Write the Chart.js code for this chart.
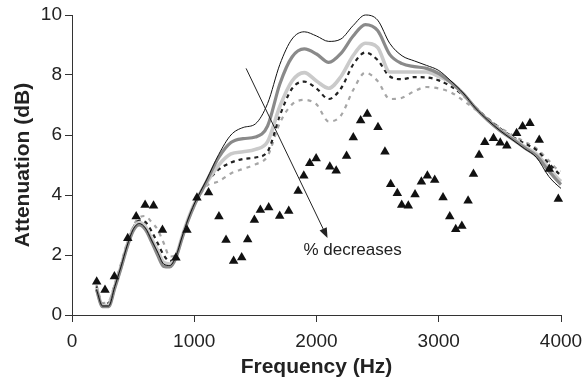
<!DOCTYPE html>
<html>
<head>
<meta charset="utf-8">
<script src="https://cdn.jsdelivr.net/npm/chart.js@4/dist/chart.umd.min.js"></script>
<style>
  body { margin: 0; background: #fff; }
  #wrap { width: 584px; height: 384px; }
</style>
</head>
<body>
<div id="wrap"><canvas id="attChart" width="584" height="384"></canvas></div>
<script>
// frequency grid (Hz) shared by the curves
const freq = [200, 250, 300, 350, 400, 450, 500, 550, 600, 650, 700, 750, 800, 850, 900, 950, 1000,
    1100, 1200, 1300, 1400, 1500, 1600, 1700, 1800, 1900, 2000, 2100, 2200, 2300, 2400, 2500,
    2600, 2700, 2800, 2900, 3000, 3100, 3200, 3300, 3400, 3500, 3600, 3700, 3800, 3900, 4000, 4050];

const curveBlack = [0.85, 0.3, 0.3, 0.95, 1.6, 2.3, 2.85, 3.05, 2.9, 2.5, 2.1, 1.7, 1.65, 1.95, 2.6, 3.2, 3.7,
    4.5, 5.35, 6.0, 6.25, 6.37, 7.05, 8.35, 9.2, 9.44, 9.3, 9.12, 9.2, 9.65, 10.0, 9.83,
    9.05, 8.64, 8.47, 8.32, 8.15, 7.8, 7.4, 6.9, 6.5, 6.15, 5.85, 5.55, 5.25, 4.62, 4.22, 4.08];

const curveDarkGray = [0.85, 0.28, 0.28, 0.9, 1.55, 2.25, 2.8, 3.0, 2.85, 2.45, 2.0, 1.62, 1.6, 1.9, 2.55, 3.15, 3.65,
    4.45, 5.25, 5.75, 5.88, 5.93, 6.3, 7.7, 8.6, 8.87, 8.7, 8.42, 8.72, 9.3, 9.68, 9.48,
    8.68, 8.38, 8.28, 8.22, 8.05, 7.75, 7.38, 6.9, 6.5, 6.15, 5.87, 5.58, 5.3, 4.8, 4.35, 4.22];

const curveLightGray = [0.9, 0.3, 0.33, 0.95, 1.6, 2.3, 2.85, 3.08, 2.95, 2.55, 2.15, 1.75, 1.7, 1.95, 2.6, 3.2, 3.7,
    4.4, 5.0, 5.37, 5.44, 5.52, 5.78, 6.95, 7.8, 8.08, 7.8, 7.56, 7.95, 8.65, 9.06, 8.92,
    8.1, 8.1, 8.1, 8.1, 7.95, 7.75, 7.36, 6.9, 6.5, 6.17, 5.9, 5.62, 5.36, 4.9, 4.45, 4.35];

const curveBlackDash = [0.95, 0.35, 0.4, 1.0, 1.65, 2.35, 2.9, 3.15, 3.1, 2.8, 2.4, 2.0, 1.8, 1.95, 2.6, 3.2, 3.7,
    4.4, 4.85, 5.08, 5.2, 5.25, 5.45, 6.65, 7.55, 7.78, 7.55, 7.2, 7.55, 8.35, 8.75, 8.5,
    7.95, 7.86, 7.93, 7.92, 7.82, 7.62, 7.32, 6.92, 6.55, 6.22, 5.95, 5.72, 5.5, 5.05, 4.65, 4.5];

const curveGrayDash = [1.0, 0.4, 0.45, 1.05, 1.7, 2.4, 2.95, 3.25, 3.3, 3.1, 2.85, 2.4, 1.95, 2.0, 2.6, 3.2, 3.65,
    4.3, 4.45, 4.72, 4.87, 5.02, 5.3, 6.4, 7.02, 7.17, 7.02, 6.45, 6.65, 7.5, 8.08, 7.8,
    7.2, 7.24, 7.46, 7.6, 7.55, 7.42, 7.15, 6.85, 6.55, 6.25, 6.0, 5.78, 5.55, 5.15, 4.8, 4.85];

// measured points (triangles)
const measFreq = [202, 270, 347, 456, 525, 598, 667, 740, 850, 940, 1022, 1117, 1202, 1260, 1322, 1388,
    1437, 1492, 1541, 1609, 1699, 1773, 1850, 1896, 1945, 1997, 2109, 2161, 2246, 2301, 2361, 2415,
    2503, 2560, 2607, 2661, 2697, 2751, 2806, 2858, 2907, 2967, 3035, 3090, 3139, 3189, 3240, 3284,
    3330, 3377, 3448, 3503, 3557, 3637, 3686, 3746, 3822, 3904, 3978];
const measAtt = [1.11, 0.83, 1.28, 2.56, 3.28, 3.67, 3.64, 2.83, 1.91, 2.83, 3.91, 4.08, 3.28, 2.5, 1.8, 1.92,
    2.52, 3.17, 3.5, 3.58, 3.3, 3.47, 4.13, 4.64, 5.06, 5.22, 4.94, 4.81, 5.3, 5.92, 6.48, 6.7,
    6.26, 5.44, 4.36, 4.06, 3.67, 3.64, 4.02, 4.44, 4.64, 4.5, 3.92, 3.28, 2.86, 2.97, 3.81, 4.7,
    5.33, 5.76, 5.89, 5.74, 5.64, 6.06, 6.28, 6.39, 5.83, 4.87, 3.87];

const xTicks = [0, 1000, 2000, 3000, 4000];
const yTicks = [0, 2, 4, 6, 8, 10];

// annotation: arrow start/end in (Hz, dB) and label anchor
const arrowLine = [[1424, 8.22], [2090, 2.57]];
const noteText = '% decreases';
const notePos = [1893, 2.14];

const FONT = "'Liberation Sans', Arial, Helvetica, sans-serif";

function pts(ys) {
    return freq.map((f, i) => ({ x: f, y: ys[i] }));
}

function curve(label, ys, color, width, dash, order) {
    return {
        type: 'line',
        label: label,
        data: pts(ys),
        borderColor: color,
        borderWidth: width,
        borderDash: dash,
        pointRadius: 0,
        fill: false,
        tension: 0.4,
        cubicInterpolationMode: 'monotone',
        clip: false,
        order: order
    };
}

const annotationPlugin = {
    id: 'arrowNote',
    afterDatasetsDraw(chart) {
        const ctx = chart.ctx;
        const xs = chart.scales.x, ys = chart.scales.y;
        const x1 = xs.getPixelForValue(arrowLine[0][0]), y1 = ys.getPixelForValue(arrowLine[0][1]);
        const x2 = xs.getPixelForValue(arrowLine[1][0]), y2 = ys.getPixelForValue(arrowLine[1][1]);
        const ang = Math.atan2(y2 - y1, x2 - x1);
        const head = 10, half = 4;
        ctx.save();
        ctx.strokeStyle = '#222';
        ctx.fillStyle = '#222';
        ctx.lineWidth = 1;
        ctx.beginPath();
        ctx.moveTo(x1, y1);
        ctx.lineTo(x2 - Math.cos(ang) * head * 0.8, y2 - Math.sin(ang) * head * 0.8);
        ctx.stroke();
        ctx.beginPath();
        ctx.moveTo(x2, y2);
        ctx.lineTo(x2 - Math.cos(ang) * head - Math.sin(ang) * half, y2 - Math.sin(ang) * head + Math.cos(ang) * half);
        ctx.lineTo(x2 - Math.cos(ang) * head + Math.sin(ang) * half, y2 - Math.sin(ang) * head - Math.cos(ang) * half);
        ctx.closePath();
        ctx.fill();
        ctx.font = '17px ' + FONT;
        ctx.textAlign = 'left';
        ctx.textBaseline = 'middle';
        ctx.fillText(noteText, xs.getPixelForValue(notePos[0]), ys.getPixelForValue(notePos[1]));
        ctx.restore();
    }
};

new Chart(document.getElementById('attChart'), {
    data: {
        datasets: [
            {
                type: 'scatter',
                label: 'measured',
                data: measFreq.map((f, i) => ({ x: f, y: measAtt[i] })),
                pointStyle: 'triangle',
                pointRadius: 5.5,
                backgroundColor: '#111',
                borderColor: '#111',
                borderWidth: 0,
                clip: false,
                order: 0
            },
            curve('c1', curveBlack, '#111', 1, [], 1),
            curve('c2', curveDarkGray, '#8a8a8a', 3.2, [], 2),
            curve('c3', curveLightGray, '#cacaca', 3.6, [], 3),
            curve('c4', curveBlackDash, '#222', 2.2, [4, 4], 4),
            curve('c5', curveGrayDash, '#a6a6a6', 2.2, [4, 5], 5)
        ]
    },
    options: {
        responsive: false,
        animation: false,
        layout: { padding: { top: 15, right: 23, left: 0, bottom: 0 } },
        plugins: {
            legend: { display: false },
            tooltip: { enabled: false }
        },
        scales: {
            x: {
                type: 'linear',
                min: 0,
                max: 4000,
                afterFit: s => { s.height = 69; s.paddingLeft = 0; s.paddingRight = 0; },
                afterBuildTicks: s => { s.ticks = xTicks.map(v => ({ value: v })); },
                grid: { drawOnChartArea: false, drawTicks: true, tickLength: 7, color: '#333' },
                border: { color: '#333', width: 1 },
                ticks: {
                    color: '#222', padding: 8, maxRotation: 0,
                    font: { family: FONT, size: 19 },
                    callback: v => String(v)
                },
                title: {
                    display: true,
                    text: 'Frequency (Hz)',
                    color: '#222',
                    padding: { top: 0, bottom: 4 },
                    font: { family: FONT, size: 21, weight: 'bold' }
                }
            },
            y: {
                type: 'linear',
                min: 0,
                max: 10,
                afterFit: s => { s.width = 72; s.paddingTop = 0; s.paddingBottom = 0; },
                afterBuildTicks: s => { s.ticks = yTicks.map(v => ({ value: v })); },
                grid: { drawOnChartArea: false, drawTicks: true, tickLength: 7, color: '#333' },
                border: { color: '#333', width: 1 },
                ticks: {
                    color: '#222', padding: 3,
                    font: { family: FONT, size: 19 },
                    callback: v => String(v)
                },
                title: {
                    display: true,
                    text: 'Attenuation (dB)',
                    color: '#222',
                    padding: { top: 11, bottom: 0 },
                    font: { family: FONT, size: 21, weight: 'bold' }
                }
            }
        }
    },
    plugins: [annotationPlugin]
});
</script>
</body>
</html>
